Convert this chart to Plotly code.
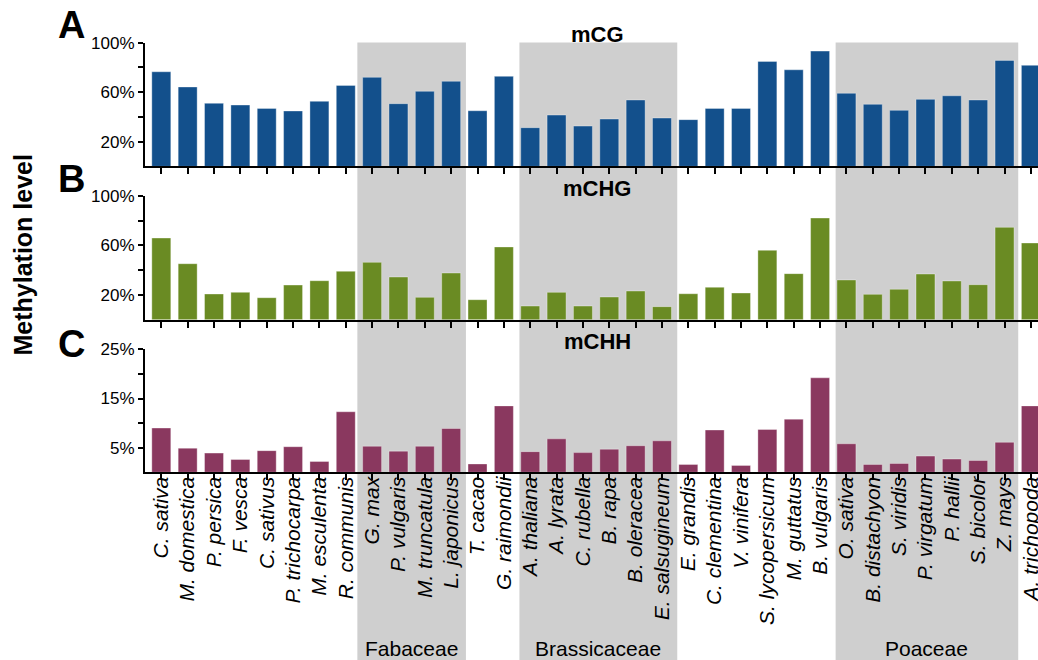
import plotly.graph_objects as go

species = ["C. sativa", "M. domestica", "P. persica", "F. vesca", "C. sativus",
           "P. trichocarpa", "M. esculenta", "R. communis", "G. max", "P. vulgaris",
           "M. truncatula", "L. japonicus", "T. cacao", "G. raimondii", "A. thaliana",
           "A. lyrata", "C. rubella", "B. rapa", "B. oleracea", "E. salsugineum",
           "E. grandis", "C. clementina", "V. vinifera", "S. lycopersicum", "M. guttatus",
           "B. vulgaris", "O. sativa", "B. distachyon", "S. viridis", "P. virgatum",
           "P. hallii", "S. bicolor", "Z. mays", "A. trichopoda"]

mCG = [76.5, 64.2, 51.0, 49.6, 46.9, 44.8, 52.6, 65.5, 72.0, 50.7,
       60.7, 68.8, 45.0, 72.8, 31.3, 41.5, 32.6, 38.3, 53.7, 39.1,
       37.8, 46.9, 46.9, 84.9, 78.1, 93.2, 59.1, 50.2, 45.3, 54.2,
       57.1, 53.7, 85.7, 81.7]

mCHG = [65.9, 45.2, 20.8, 22.1, 17.8, 28.0, 31.5, 39.1, 46.3, 34.5,
        18.1, 37.7, 16.2, 58.7, 11.1, 22.1, 11.1, 18.4, 23.2, 10.6,
        21.0, 26.2, 21.6, 56.0, 37.2, 82.0, 32.1, 20.5, 24.6, 36.9,
        31.3, 28.3, 74.5, 61.9]

mCHH = [9.0, 4.9, 3.9, 2.6, 4.4, 5.2, 2.2, 12.3, 5.3, 4.3,
        5.3, 8.9, 1.7, 13.5, 4.2, 6.8, 4.0, 4.7, 5.4, 6.4,
        1.6, 8.6, 1.4, 8.7, 10.8, 19.2, 5.8, 1.6, 1.8, 3.3,
        2.7, 2.4, 6.1, 13.5]

contexts = ["mCG", "mCHG", "mCHH"]
panel_letters = ["A", "B", "C"]
colors = ["#13508c", "#6a8b23", "#8a385f"]

y_ticks = [[20, 40, 60, 80, 100], [20, 40, 60, 80, 100], [5, 10, 15, 20, 25]]
y_ticktext = [["20%", "", "60%", "", "100%"], ["20%", "", "60%", "", "100%"],
              ["5%", "", "15%", "", "25%"]]
y_ranges = [[0, 100], [0, 100], [0, 25]]

families = ["Fabaceae", "Brassicaceae", "Poaceae"]
family_first = ["G. max", "A. thaliana", "O. sativa"]
family_last = ["L. japonicus", "E. salsugineum", "Z. mays"]
family_pad = [(0.56, 0.56), (0.41, 0.58), (0.41, 0.52)]

W, H = 1038, 660
panel_px = [(42.7, 166.4), (195.7, 319.8), (349.3, 472.3)]
title_px_y = [35, 188, 341]
letter_px_y = [25, 179, 344]

def py(px):
    return 1 - px / H

fig = go.Figure()
series = [mCG, mCHG, mCHH]
for i, vals in enumerate(series):
    fig.add_trace(go.Bar(
        x=species, y=vals, marker_color=colors[i],
        marker_line=dict(color="rgba(255,255,255,0.35)", width=1),
        xaxis="x" if i == 0 else f"x{i+1}",
        yaxis="y" if i == 0 else f"y{i+1}",
        showlegend=False))

xrange = [-0.619, 33.27]
font_family = "Liberation Sans, Arial, Helvetica, sans-serif"
layout = dict(
    width=W, height=H, margin=dict(l=0, r=0, t=0, b=0),
    paper_bgcolor="white", plot_bgcolor="rgba(0,0,0,0)",
    bargap=0.28, font=dict(family=font_family, color="black"),
    showlegend=False,
)
for i in range(3):
    xk = "xaxis" if i == 0 else f"xaxis{i+1}"
    yk = "yaxis" if i == 0 else f"yaxis{i+1}"
    ax_y = "y" if i == 0 else f"y{i+1}"
    ax_x = "x" if i == 0 else f"x{i+1}"
    top, bot = panel_px[i]
    layout[xk] = dict(
        domain=[145 / W, 1], anchor=ax_y, range=xrange, type="category",
        showline=True, linecolor="black", linewidth=2,
        ticks="outside", ticklen=6, tickwidth=2, tickcolor="black",
        showticklabels=(i == 2), showgrid=False, zeroline=False,
        tickangle=-90,
        tickfont=dict(size=21, style="italic", family=font_family, color="black"),
        ticklabelstandoff=-12, automargin=False,
    )
    if i > 0:
        layout[xk]["matches"] = "x"
    layout[yk] = dict(
        domain=[py(bot), py(top)], anchor=ax_x, range=y_ranges[i],
        showline=True, linecolor="black", linewidth=2,
        ticks="outside", ticklen=5, tickwidth=2, tickcolor="black",
        tickvals=y_ticks[i], ticktext=y_ticktext[i],
        tickfont=dict(size=17, family=font_family, color="black"),
        showgrid=False, zeroline=False, automargin=False,
    )

shapes = []
annotations = []
for f, first, last, pad in zip(families, family_first, family_last, family_pad):
    i0 = species.index(first)
    i1 = species.index(last)
    x0 = i0 - pad[0]
    x1 = i1 + pad[1]
    shapes.append(dict(type="rect", xref="x", yref="paper", x0=x0, x1=x1,
                       y0=-0.05, y1=py(42.5), fillcolor="#cfcfcf", line=dict(width=0),
                       layer="below"))
    annotations.append(dict(text=f, xref="x", yref="paper", x=(x0 + x1) / 2,
                            y=py(648), showarrow=False, xanchor="center", yanchor="middle",
                            font=dict(size=21, color="black")))

for i in range(3):
    annotations.append(dict(text=f"<b>{contexts[i]}</b>", xref="paper", yref="paper",
                            x=597 / W, y=py(title_px_y[i]), showarrow=False,
                            xanchor="center", yanchor="middle",
                            font=dict(size=22, color="black")))
    annotations.append(dict(text=f"<b>{panel_letters[i]}</b>", xref="paper", yref="paper",
                            x=72 / W, y=py(letter_px_y[i]), showarrow=False,
                            xanchor="center", yanchor="middle",
                            font=dict(size=38, color="black")))

annotations.append(dict(text="<b>Methylation level</b>", xref="paper", yref="paper",
                        x=22 / W, y=py(255.5), showarrow=False, textangle=-90,
                        xanchor="center", yanchor="middle",
                        font=dict(size=25, color="black")))

layout["shapes"] = shapes
layout["annotations"] = annotations
fig.update_layout(**layout)

post = (
    "document.documentElement.style.margin='0';"
    "document.documentElement.style.padding='0';"
    "document.body.style.margin='0';document.body.style.padding='0';"
    "document.body.style.overflow='hidden';"
    "var d=document.getElementById('{plot_id}');"
    "d.style.position='absolute';d.style.top='0px';d.style.left='0px';"
)
fig.write_html("out.html", config={"displayModeBar": False}, post_script=post)
